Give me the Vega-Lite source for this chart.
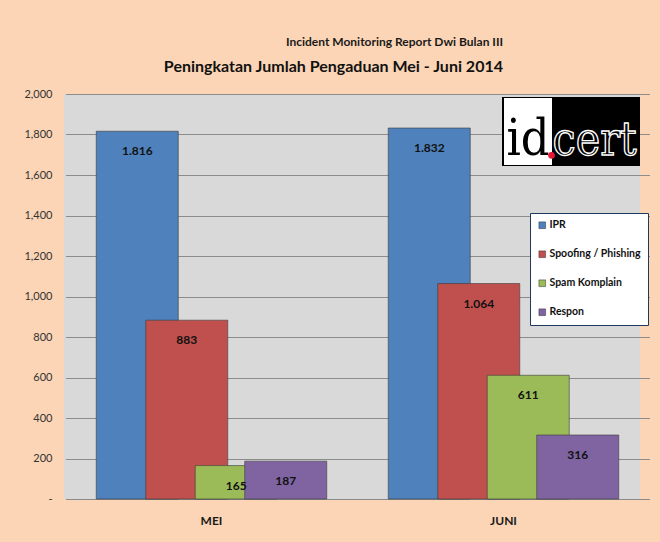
{
  "$schema": "https://vega.github.io/schema/vega-lite/v6.json",
  "autosize": {"type": "none"},
  "width": 576,
  "height": 405,
  "padding": {"left": 64, "top": 94, "right": 20, "bottom": 43},
  "background": "#FBD5B5",
  "title": {
    "text": "Incident Monitoring Report Dwi Bulan III",
    "subtitle": "Peningkatan Jumlah Pengaduan Mei - Juni 2014",
    "anchor": "end",
    "frame": "group",
    "dx": -137,
    "offset": 12,
    "font": "Lato",
    "fontSize": 12,
    "fontWeight": "bold",
    "color": "#1a1a1a",
    "subtitleFont": "Lato",
    "subtitleFontSize": 16,
    "subtitleFontWeight": "bold",
    "subtitleColor": "#111111",
    "subtitlePadding": 10
  },
  "datasets": {
    "pengaduan": [
      {"bulan": "MEI", "kategori": "IPR", "value": 1816},
      {"bulan": "MEI", "kategori": "Spoofing / Phishing", "value": 883},
      {"bulan": "MEI", "kategori": "Spam Komplain", "value": 165},
      {"bulan": "MEI", "kategori": "Respon", "value": 187},
      {"bulan": "JUNI", "kategori": "IPR", "value": 1832},
      {"bulan": "JUNI", "kategori": "Spoofing / Phishing", "value": 1064},
      {"bulan": "JUNI", "kategori": "Spam Komplain", "value": 611},
      {"bulan": "JUNI", "kategori": "Respon", "value": 316}
    ],
    "logo": [{"nama": "id.cert"}]
  },
  "layer": [
    {
      "data": {"name": "pengaduan"},
      "mark": {"type": "bar", "width": 82, "stroke": "#3b3b3b", "strokeOpacity": 0.6, "strokeWidth": 1},
      "encoding": {
        "x": {
          "field": "bulan",
          "type": "nominal",
          "sort": ["MEI", "JUNI"],
          "scale": {"paddingInner": 0, "paddingOuter": 0, "range": [1.5, 585.5]},
          "axis": {
            "title": null,
            "labelAngle": 0,
            "ticks": false,
            "domainColor": "#8a8a8a",
            "labelFontWeight": "bold",
            "labelFontSize": 12,
            "labelColor": "#1a1a1a",
            "labelPadding": 16,
            "labelFont": "Lato"
          }
        },
        "xOffset": {
          "field": "kategori",
          "type": "nominal",
          "sort": ["IPR", "Spoofing / Phishing", "Spam Komplain", "Respon"],
          "scale": {"paddingInner": 0, "paddingOuter": 0.95}
        },
        "y": {
          "field": "value",
          "type": "quantitative",
          "scale": {"domain": [0, 2000], "nice": false},
          "axis": {
            "title": null,
            "values": [0, 200, 400, 600, 800, 1000, 1200, 1400, 1600, 1800, 2000],
            "labelExpr": "datum.value == 0 ? '-' : datum.label",
            "domain": false,
            "ticks": false,
            "gridColor": "#8c8c8c",
            "gridWidth": 1,
            "labelPadding": 12,
            "labelFontSize": 11,
            "labelColor": "#333333",
            "labelFont": "Lato"
          }
        },
        "color": {
          "field": "kategori",
          "type": "nominal",
          "sort": ["IPR", "Spoofing / Phishing", "Spam Komplain", "Respon"],
          "scale": {
            "domain": ["IPR", "Spoofing / Phishing", "Spam Komplain", "Respon"],
            "range": ["#4F81BD", "#C0504D", "#9BBB59", "#8064A2"]
          },
          "legend": {
            "title": null,
            "orient": "none",
            "legendX": 466,
            "legendY": 119,
            "fillColor": "#ffffff",
            "strokeColor": "#1F3A5F",
            "padding": 7,
            "symbolType": "square",
            "symbolSize": 45,
            "symbolStrokeColor": "#333333",
            "symbolStrokeWidth": 0.5,
            "labelFont": "Lato",
            "labelFontSize": 10.5,
            "labelFontWeight": "bold",
            "labelColor": "#111111",
            "rowPadding": 18,
            "labelOffset": 2
          }
        }
      }
    },
    {
      "data": {"name": "pengaduan"},
      "mark": {
        "type": "text",
        "baseline": "middle",
        "dy": 20,
        "font": "Lato",
        "fontSize": 12,
        "fontWeight": "bold",
        "color": "#111111",
        "text": {"expr": "replace(format(datum.value, ','), ',', '.')"}
      },
      "encoding": {
        "x": {"field": "bulan", "type": "nominal", "sort": ["MEI", "JUNI"]},
        "xOffset": {"field": "kategori", "type": "nominal", "sort": ["IPR", "Spoofing / Phishing", "Spam Komplain", "Respon"]},
        "y": {"field": "value", "type": "quantitative"}
      }
    },
    {
      "data": {"name": "logo"},
      "mark": {"type": "bar", "width": 138, "color": "#000000", "xOffset": 67.5},
      "encoding": {
        "x": {"datum": "JUNI", "type": "nominal"},
        "y": {"datum": 1985, "type": "quantitative"},
        "y2": {"datum": 1645}
      }
    },
    {
      "data": {"name": "logo"},
      "mark": {"type": "bar", "width": 48, "color": "#ffffff", "xOffset": 24.5},
      "encoding": {
        "x": {"datum": "JUNI", "type": "nominal"},
        "y": {"datum": 1980, "type": "quantitative"},
        "y2": {"datum": 1650}
      }
    },
    {
      "data": {"name": "logo"},
      "mark": {"type": "text", "text": "id", "font": "DejaVu Serif Condensed", "fontSize": 50, "color": "#000000", "align": "center", "baseline": "alphabetic", "dx": 24.5},
      "encoding": {
        "x": {"datum": "JUNI", "type": "nominal"},
        "y": {"datum": 1700, "type": "quantitative"}
      }
    },
    {
      "data": {"name": "logo"},
      "mark": {"type": "text", "text": "cert", "font": "DejaVu Serif Condensed", "fontSize": 46, "color": "#000000", "stroke": "#ffffff", "strokeWidth": 1.3, "align": "center", "baseline": "alphabetic", "dx": 91},
      "encoding": {
        "x": {"datum": "JUNI", "type": "nominal"},
        "y": {"datum": 1700, "type": "quantitative"}
      }
    },
    {
      "data": {"name": "logo"},
      "mark": {"type": "point", "filled": true, "color": "#E8173A", "size": 45, "opacity": 1, "xOffset": 48},
      "encoding": {
        "x": {"datum": "JUNI", "type": "nominal"},
        "y": {"datum": 1697, "type": "quantitative"}
      }
    }
  ],
  "config": {
    "view": {"fill": "#D9D9D9", "stroke": null}
  }
}
